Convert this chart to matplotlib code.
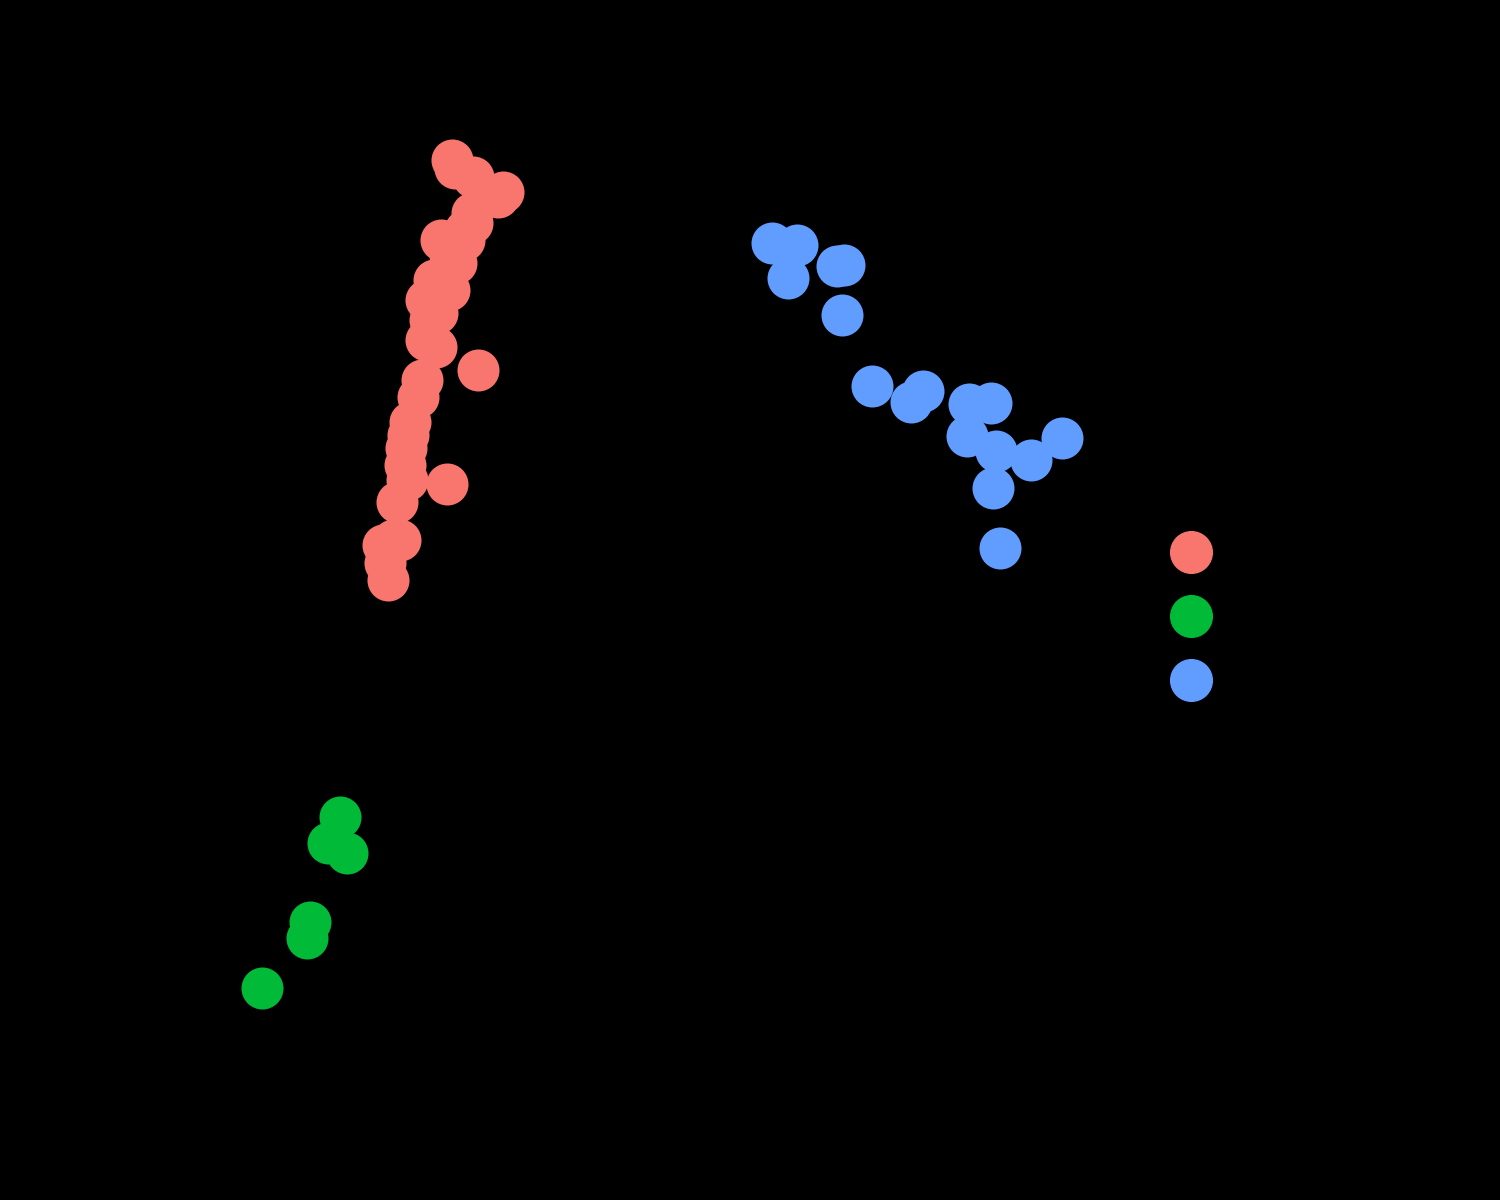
import matplotlib.pyplot as plt
from matplotlib.lines import Line2D

# values (x to the right, y upwards)
red_x = [452, 455, 473, 498, 503, 472, 465, 441, 464, 472, 456, 450, 434, 449, 426, 437, 430,
         426, 436, 422, 418, 478, 410, 408, 406, 405, 407, 447, 397, 393, 383, 400, 385, 388]
red_y = [1040, 1032, 1023, 1003, 1008, 987, 970, 960, 960, 977, 937, 945, 920, 910, 900, 887, 880,
         860, 853, 820, 803, 830, 778, 765, 752, 735, 720, 716, 698, 660, 655, 660, 637, 620]

green_x = [340, 328, 347, 310, 307, 262]
green_y = [383, 357, 347, 278, 262, 212]

blue_x = [772, 797, 788, 837, 844, 842, 872, 911, 923, 969, 991, 967, 996, 1031, 1062, 993, 1000]
blue_y = [957, 955, 922, 934, 935, 885, 814, 798, 809, 796, 797, 764, 749, 740, 762, 712, 652]

groups = ["a", "b", "c"]
colors = ["#F8766D", "#00BA38", "#619CFF"]

fig = plt.figure(figsize=(15, 12), dpi=100, facecolor="black")
ax = fig.add_axes([0, 0, 1, 1], facecolor="black")

ax.scatter(red_x, red_y, s=915, color=colors[0], linewidths=0)
ax.scatter(green_x, green_y, s=915, color=colors[1], linewidths=0)
ax.scatter(blue_x, blue_y, s=915, color=colors[2], linewidths=0)

ax.set_xlim(0, 1500)
ax.set_ylim(0, 1200)
ax.axis("off")

handles = [Line2D([], [], ls="", marker="o", markersize=30, color=c) for c in colors]
leg = fig.legend(handles, groups, loc="center left", bbox_to_anchor=(0.759, 0.485),
                 frameon=False, fontsize=20, labelspacing=1.3, handletextpad=1.0,
                 labelcolor="black")

fig.savefig("out.png", dpi=100, facecolor="black")
